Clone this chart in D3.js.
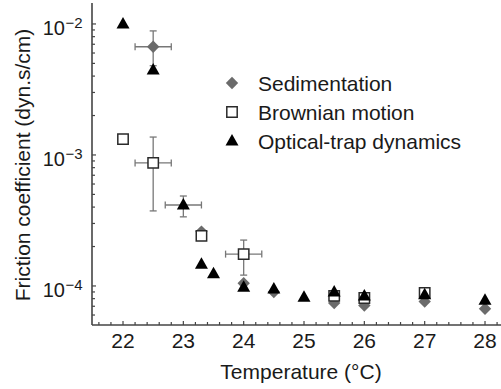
<!DOCTYPE html>
<html>
<head>
<meta charset="utf-8">
<script src="https://cdn.jsdelivr.net/npm/d3@7"></script>
<style>
  html, body { margin: 0; padding: 0; background: #fff; }
  svg { display: block; font-family: "Liberation Sans", Arial, Helvetica, sans-serif; }
</style>
</head>
<body>
<svg id="chart" width="501" height="389"></svg>
<script>
// ---- data ----
const sedT   = [22.5, 23.3, 24.0, 24.5, 25.5, 26.0, 27.0, 28.0];
const sedF   = [6.7e-3, 2.6e-4, 1.05e-4, 9.0e-5, 7.4e-5, 7.1e-5, 7.6e-5, 6.7e-5];
const brownT = [22.0, 22.5, 23.3, 24.0, 25.5, 26.0, 27.0];
const brownF = [1.32e-3, 8.7e-4, 2.41e-4, 1.75e-4, 8.4e-5, 8.1e-5, 8.85e-5];
const optT   = [22.0, 22.5, 23.0, 23.3, 23.5, 24.0, 24.5, 25.0, 25.5, 26.0, 27.0, 28.0];
const optF   = [1.0e-2, 4.46e-3, 4.15e-4, 1.47e-4, 1.24e-4, 9.8e-5, 9.5e-5, 8.2e-5, 9.0e-5, 8.4e-5, 8.6e-5, 7.8e-5];
// error bars
const errSeries = ["sed", "brown", "brown", "opt"];
const errT      = [22.5, 22.5, 24.0, 23.0];
const errF      = [6.7e-3, 8.7e-4, 1.75e-4, 4.15e-4];
const errDx     = [0.3, 0.3, 0.3, 0.3];
const errLow    = [4.8e-3, 3.74e-4, 1.21e-4, 3.37e-4];
const errHigh   = [8.85e-3, 1.37e-3, 2.24e-4, 4.86e-4];
const xTickVals = [22, 23, 24, 25, 26, 27, 28];
const yTickExp  = [-2, -3, -4];
const legendLabels = ["Sedimentation", "Brownian motion", "Optical-trap dynamics"];

// ---- layout ----
const svg = d3.select("#chart");
const x = d3.scaleLinear().domain([21.486, 28.265]).range([92, 501]);
const y = d3.scaleLog().domain([Math.pow(10, -1.84), Math.pow(10, -4.298)]).range([3, 325]);
const axisCol = "#444";
const textCol = "#1a1a1a";
const gray = "#6b6b6b";

// axes lines
const g = svg.append("g");
g.append("line").attr("x1", x.range()[0]).attr("x2", x.range()[0])
  .attr("y1", y.range()[0]).attr("y2", y.range()[1])
  .attr("stroke", axisCol).attr("stroke-width", 1.6);
g.append("line").attr("x1", x.range()[0]).attr("x2", x.range()[1])
  .attr("y1", y.range()[1]).attr("y2", y.range()[1])
  .attr("stroke", axisCol).attr("stroke-width", 1.6);

// x ticks (minor every 0.2, inward)
const xMinor = d3.range(21.6, 28.3, 0.2).map(v => +v.toFixed(1));
g.selectAll(".xt").data(xMinor).join("line")
  .attr("x1", d => x(d)).attr("x2", d => x(d))
  .attr("y1", y.range()[1]).attr("y2", d => y.range()[1] - (Math.abs(d - Math.round(d)) < 1e-6 ? 4 : 3))
  .attr("stroke", axisCol).attr("stroke-width", 1.2);
g.selectAll(".xl").data(xTickVals).join("text")
  .attr("x", d => x(d)).attr("y", 348)
  .attr("text-anchor", "middle").attr("font-size", 21).attr("fill", textCol)
  .text(d => d);

// y ticks (log minor, inward)
const yTicks = [];
for (let e = -5; e <= -1; e++) for (let m = 1; m <= 9; m++) {
  const v = m * Math.pow(10, e);
  if (v <= y.domain()[0] && v >= y.domain()[1]) yTicks.push({v, major: m === 1});
}
g.selectAll(".yt").data(yTicks).join("line")
  .attr("x1", x.range()[0]).attr("x2", d => x.range()[0] + (d.major ? 4 : 3))
  .attr("y1", d => y(d.v)).attr("y2", d => y(d.v))
  .attr("stroke", axisCol).attr("stroke-width", 1.2);
const yl = g.selectAll(".yl").data(yTickExp).join("g");
yl.append("text").attr("x", 65).attr("y", d => y(Math.pow(10, d)) + 11)
  .attr("text-anchor", "end").attr("font-size", 20).attr("fill", textCol).text("10");
yl.append("text").attr("x", 65.5).attr("y", d => y(Math.pow(10, d)) + 4)
  .attr("text-anchor", "start").attr("font-size", 15).attr("fill", textCol)
  .text(d => "\u2212" + Math.abs(d));

// axis titles
svg.append("text").attr("x", 301).attr("y", 379).attr("text-anchor", "middle")
  .attr("font-size", 21).attr("fill", textCol).text("Temperature (\u00B0C)");
svg.append("text").attr("transform", "translate(30,165) rotate(-90)")
  .attr("text-anchor", "middle").attr("font-size", 21).attr("fill", textCol)
  .text("Friction coefficient (dyn.s/cm)");

// error bars
const errData = errT.map((t, i) => ({s: errSeries[i], t, f: errF[i], dx: errDx[i], lo: errLow[i], hi: errHigh[i]}));
const eb = svg.append("g").attr("stroke", "#777").attr("stroke-width", 1.3).attr("fill", "none");
errData.forEach(d => {
  const cx = x(d.t), cy = y(d.f);
  const xl = x(d.t - d.dx), xr = x(d.t + d.dx), yt = y(d.hi), ybt = y(d.lo);
  eb.append("line").attr("x1", xl).attr("x2", xr).attr("y1", cy).attr("y2", cy);
  eb.append("line").attr("x1", xl).attr("x2", xl).attr("y1", cy - 3.5).attr("y2", cy + 3.5);
  eb.append("line").attr("x1", xr).attr("x2", xr).attr("y1", cy - 3.5).attr("y2", cy + 3.5);
  eb.append("line").attr("x1", cx).attr("x2", cx).attr("y1", yt).attr("y2", ybt);
  eb.append("line").attr("x1", cx - 3.5).attr("x2", cx + 3.5).attr("y1", yt).attr("y2", yt);
  eb.append("line").attr("x1", cx - 3.5).attr("x2", cx + 3.5).attr("y1", ybt).attr("y2", ybt);
});

// marker shapes
const diamondPath = r => `M0,${-r}L${r},0L0,${r}L${-r},0Z`;
const squarePath = r => `M${-r},${-r}H${r}V${r}H${-r}Z`;
const triPath = (w, h) => `M0,${-h * 0.6}L${w / 2},${h * 0.4}L${-w / 2},${h * 0.4}Z`;

function drawSed(sel) { sel.attr("d", diamondPath(6.2)).attr("fill", gray).attr("stroke", "none"); }
function drawBrown(sel) { sel.attr("d", squarePath(5.2)).attr("fill", "#fff").attr("stroke", "#2a2a2a").attr("stroke-width", 1.5); }
function drawOpt(sel) { sel.attr("d", triPath(13, 11.5)).attr("fill", "#000").attr("stroke", "none"); }

svg.append("g").selectAll("path").data(sedT.map((t, i) => [t, sedF[i]])).join("path")
  .attr("transform", d => `translate(${x(d[0])},${y(d[1])})`).call(drawSed);
svg.append("g").selectAll("path").data(brownT.map((t, i) => [t, brownF[i]])).join("path")
  .attr("transform", d => `translate(${x(d[0])},${y(d[1])})`).call(drawBrown);
svg.append("g").selectAll("path").data(optT.map((t, i) => [t, optF[i]])).join("path")
  .attr("transform", d => `translate(${x(d[0])},${y(d[1])})`).call(drawOpt);

// legend
const leg = svg.append("g");
const legY = [83, 112, 141];
const drawers = [drawSed, drawBrown, drawOpt];
legendLabels.forEach((lab, i) => {
  leg.append("path").attr("transform", `translate(232,${legY[i]})`).call(drawers[i]);
  leg.append("text").attr("x", 258).attr("y", legY[i] + 7.5)
    .attr("font-size", 21).attr("fill", textCol).text(lab);
});
</script>
</body>
</html>
